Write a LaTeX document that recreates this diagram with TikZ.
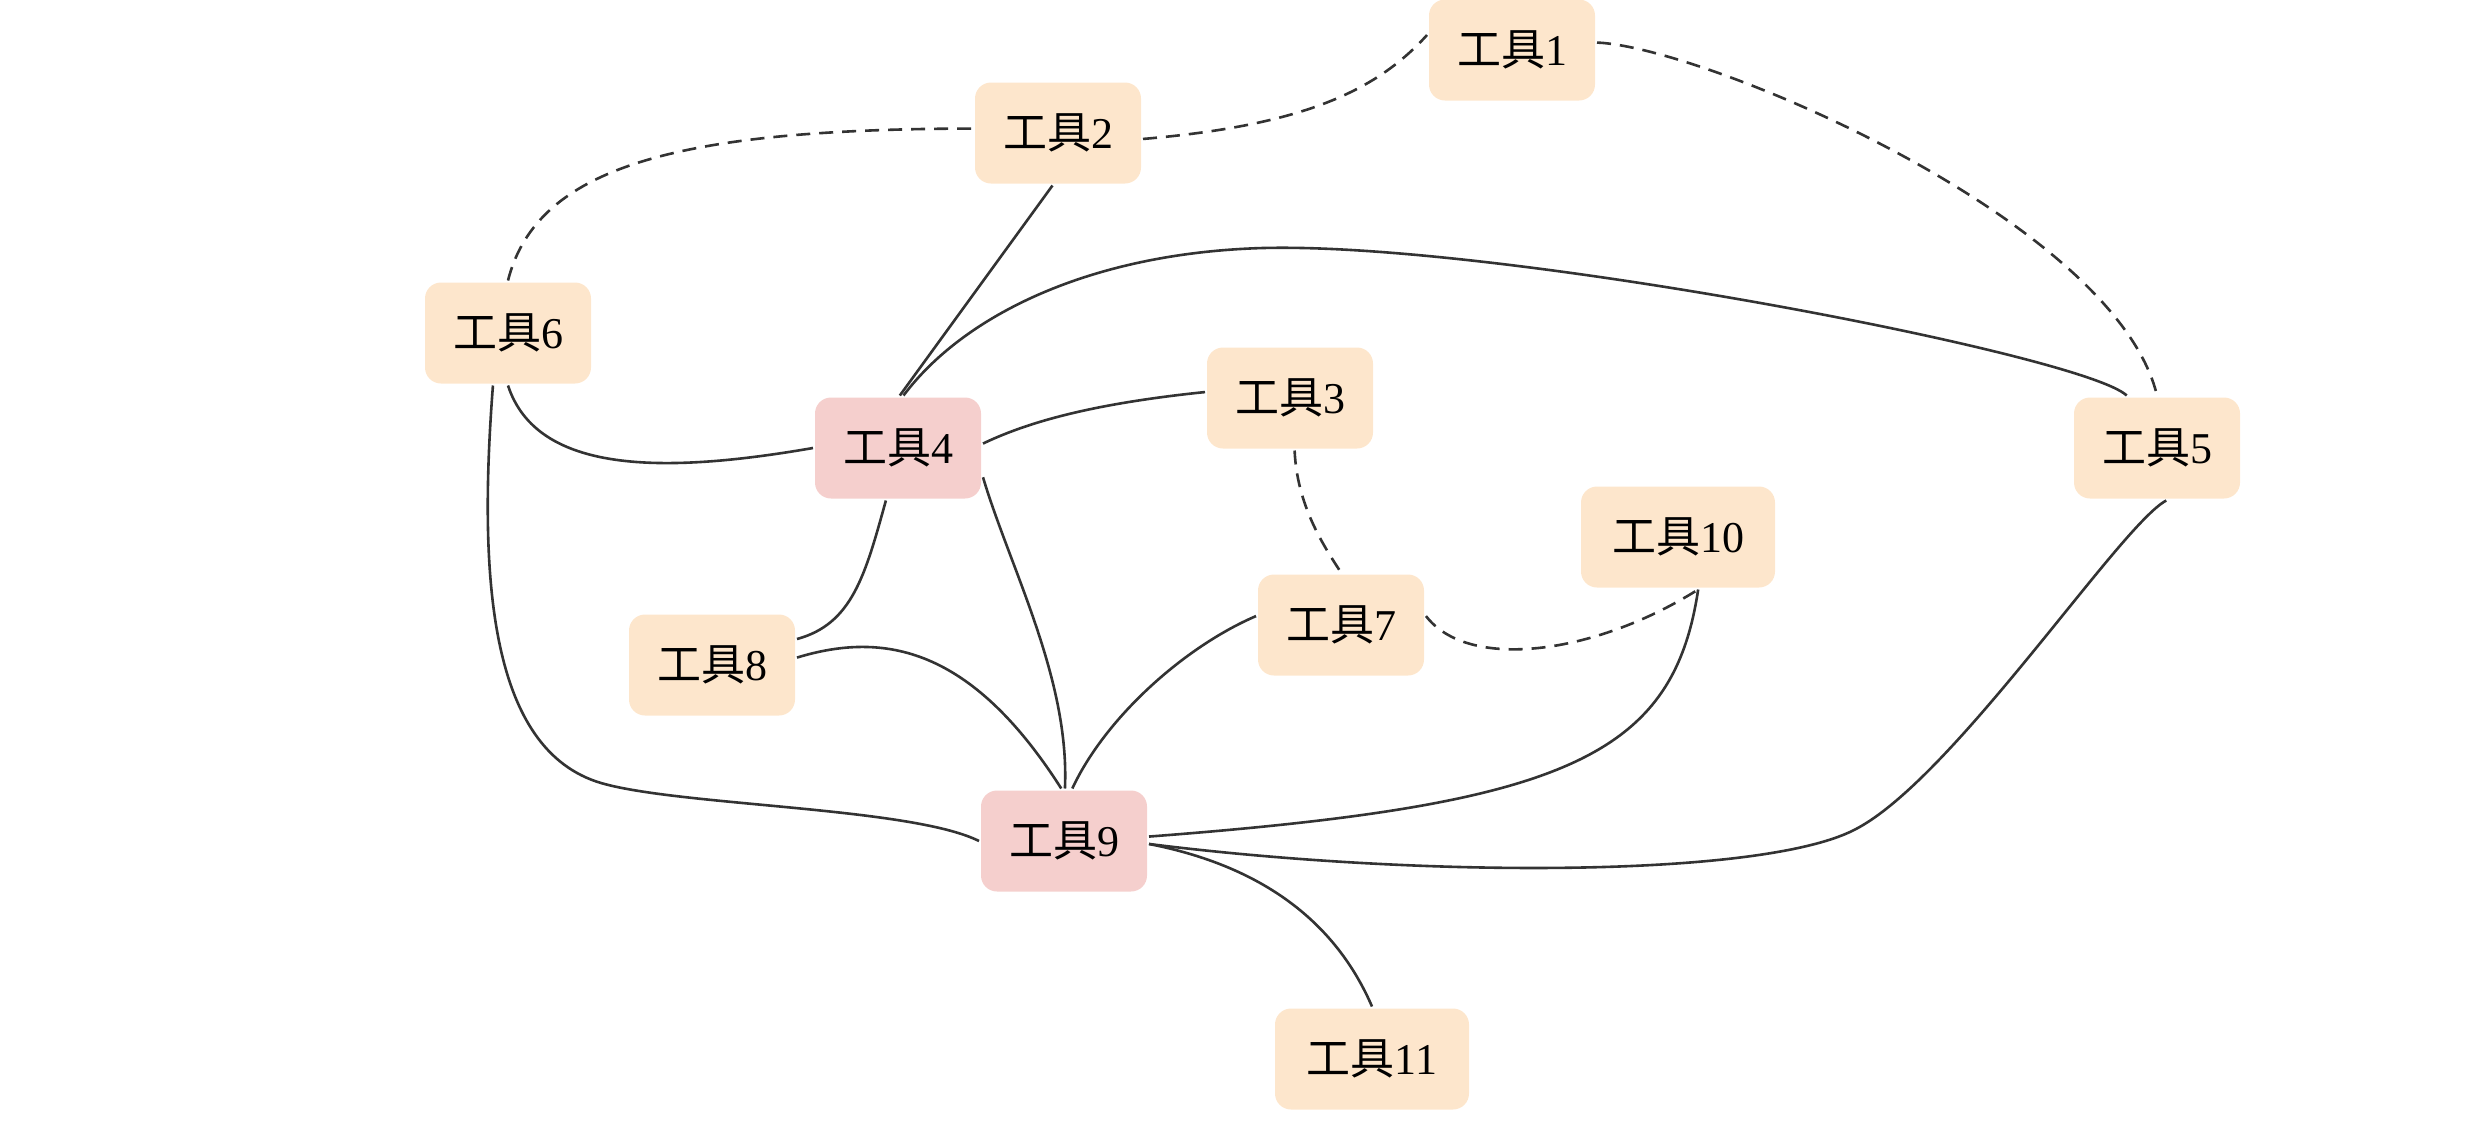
\documentclass[tikz,border=0pt]{standalone}
\usepackage{fontspec}
\setmainfont{Liberation Serif}
\newfontfamily\cjkfont{Noto Sans CJK SC}
\newcommand\toolname[1]{{\cjkfont 工具}#1}
\definecolor{toolfill}{HTML}{FDE6CC}
\definecolor{hubfill}{HTML}{F5CFCD}
\definecolor{edgecol}{HTML}{333333}
\tikzset{
  tool/.style={rectangle, rounded corners=16pt, fill=toolfill, minimum width=166pt,
    minimum height=101pt, inner sep=0pt, outer sep=2pt, font=\fontsize{44}{52}\selectfont},
  hub/.style={tool, fill=hubfill},
  widebox/.style={minimum width=194pt},
  edge/.style={draw=edgecol, line width=2.6pt},
  dashededge/.style={edge, dash pattern=on 14pt off 9pt},
}
\begin{document}
\begin{tikzpicture}[x=1pt,y=-1pt]
\useasboundingbox (0,0) rectangle (2475,1120);
% nodes
\node[tool] (n1) at (1512,50) {\toolname{1}};
\node[tool] (n2) at (1058,133) {\toolname{2}};
\node[tool] (n6) at (508,333) {\toolname{6}};
\node[hub]  (n4) at (898,448) {\toolname{4}};
\node[tool] (n3) at (1290,398) {\toolname{3}};
\node[tool] (n5) at (2157,448) {\toolname{5}};
\node[tool,widebox] (n10) at (1678,537) {\toolname{10}};
\node[tool] (n7) at (1341,625) {\toolname{7}};
\node[tool] (n8) at (712,665) {\toolname{8}};
\node[hub]  (n9) at (1064,841) {\toolname{9}};
\node[tool,widebox] (n11) at (1372,1059) {\toolname{11}};
% dashed connectors
\draw[dashededge] (n2.-4) .. controls (1294,126) and (1373,95) .. (n1.170);
\draw[dashededge] (n1.5) .. controls (1705,47) and (2115,221) .. (n5.north);
\draw[dashededge] (n6.north) .. controls (537,166) and (679,129) .. (n2.177);
\draw[dashededge] (n3.-85) .. controls (1297,505) and (1323,545) .. (n7.north);
\draw[dashededge] (n7.6) .. controls (1468,671) and (1594,655) .. (n10.-69);
% solid connectors
\draw[edge] (n2.-96) -- (n4.88);
\coordinate (m45) at (1263,248);
\draw[edge] (n4.84) .. controls (963,316) and (1089,253) .. (m45)
  .. controls (1500,242) and (2084,355) .. (n5.120);
\draw[edge] (n6.south) .. controls (537,474) and (663,474) .. (n4.180);
\draw[edge] (n4.3) .. controls (1026,423) and (1089,404) .. (n3.176);
\draw[edge] (n4.-103) .. controls (865,576) and (852,624) .. (n8.17);
\draw[edge] (n4.-19) .. controls (1010,568) and (1070,679) .. (n9.89);
\draw[edge] (n8.5) .. controls (884,631) and (971,647) .. (n9.93);
\draw[edge] (n7.174) .. controls (1184,647) and (1105,718) .. (n9.81);
\coordinate (m69) at (601,783);
\draw[edge] (n6.-106) .. controls (478,580) and (490,750) .. (m69)
  .. controls (680,806) and (911,807) .. (n9.180);
\draw[edge] (n10.-69) .. controls (1673,758) and (1563,805) .. (n9.3);
\coordinate (m59) at (1854,830);
\draw[edge] (n5.-80) .. controls (2120,525) and (1952,781) .. (m59)
  .. controls (1760,878) and (1420,878) .. (n9.-2);
\draw[edge] (n9.-2) .. controls (1231,860) and (1326,900) .. (n11.north);
\end{tikzpicture}
\end{document}
